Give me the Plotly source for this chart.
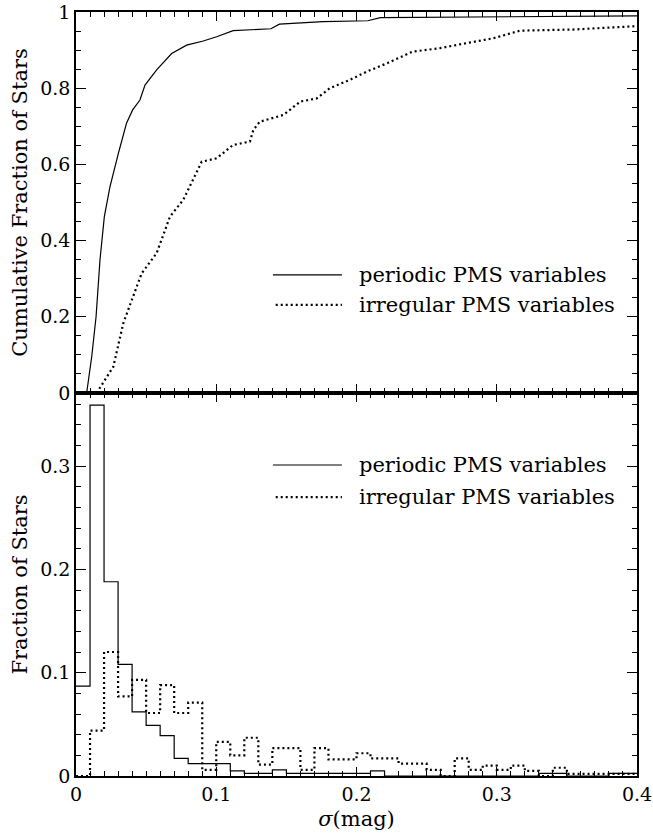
import numpy as np
import plotly.graph_objects as go

# ---------------- data ----------------
# cumulative distributions (top panel)
cdf_periodic_x = [0.0076, 0.0112, 0.0143, 0.0171, 0.0202, 0.0242, 0.0302, 0.036, 0.0404,
                  0.0456, 0.0492, 0.0575, 0.0682, 0.0789, 0.0907, 0.1003, 0.112, 0.131,
                  0.139, 0.145, 0.176, 0.208, 0.217, 0.4]
cdf_periodic_y = [0.0, 0.095, 0.2, 0.349, 0.463, 0.541, 0.629, 0.708, 0.743,
                  0.769, 0.808, 0.848, 0.891, 0.913, 0.924, 0.935, 0.951, 0.955,
                  0.956, 0.968, 0.975, 0.977, 0.985, 0.990]

cdf_irregular_x = [0.0147, 0.0266, 0.0337, 0.0468, 0.0575, 0.067, 0.0765, 0.0836, 0.0896,
                   0.1003, 0.112, 0.124, 0.1264, 0.131, 0.148, 0.160, 0.1716, 0.181,
                   0.1953, 0.207, 0.2215, 0.240, 0.2594, 0.278, 0.2975, 0.3165, 0.3545, 0.4]
cdf_irregular_y = [0.0, 0.069, 0.183, 0.314, 0.367, 0.463, 0.507, 0.559, 0.607,
                   0.616, 0.651, 0.660, 0.690, 0.712, 0.730, 0.765, 0.773, 0.800,
                   0.822, 0.843, 0.865, 0.896, 0.905, 0.918, 0.931, 0.951, 0.954, 0.963]

# histograms (bottom panel), bins of width 0.01 from 0 to 0.40
bin_edges = [round(0.01 * i, 2) for i in range(41)]
hist_periodic = [0.087, 0.359, 0.188, 0.108, 0.062, 0.049, 0.039, 0.017, 0.012, 0.012,
                 0.012, 0.005, 0.0025, 0.0025, 0.006, 0.0025, 0.0025, 0.0025, 0.0025, 0.0025,
                 0.0025, 0.005, 0.0, 0.0, 0.0, 0.0, 0.0, 0.0, 0.0, 0.0,
                 0.0, 0.0, 0.0, 0.0025, 0.0025, 0.0, 0.0, 0.0, 0.0025, 0.0025]
hist_irregular = [0.0, 0.044, 0.120, 0.077, 0.093, 0.061, 0.088, 0.061, 0.071, 0.006,
                  0.033, 0.020, 0.037, 0.011, 0.027, 0.027, 0.006, 0.027, 0.016, 0.016,
                  0.022, 0.017, 0.017, 0.012, 0.012, 0.006, 0.0, 0.017, 0.006, 0.010,
                  0.006, 0.010, 0.005, 0.0, 0.008, 0.002, 0.002, 0.002, 0.002, 0.002]

legend_labels = ["periodic PMS variables", "irregular PMS variables"]
top_yticks = [0, 0.2, 0.4, 0.6, 0.8, 1.0]
top_yticktext = ["0", "0.2", "0.4", "0.6", "0.8", "1"]
bot_yticks = [0, 0.1, 0.2, 0.3]
bot_yticktext = ["0", "0.1", "0.2", "0.3"]
xticks = [0, 0.1, 0.2, 0.3, 0.4]
xticktext = ["0", "0.1", "0.2", "0.3", "0.4"]

# ---------------- figure ----------------
FONT = "DejaVu Serif"
FS_TICK = 19
FS_TITLE = 21
FS_LEG = 21
DOT = "2px,3px"

fig = go.Figure()

fig.add_trace(go.Scatter(x=cdf_periodic_x, y=cdf_periodic_y, mode="lines",
                         line=dict(color="black", width=1.2),
                         xaxis="x", yaxis="y", showlegend=False))
fig.add_trace(go.Scatter(x=cdf_irregular_x, y=cdf_irregular_y, mode="lines",
                         line=dict(color="black", width=2.2, dash=DOT),
                         xaxis="x", yaxis="y", showlegend=False))

hp = hist_periodic + [hist_periodic[-1]]
hi = hist_irregular + [hist_irregular[-1]]
fig.add_trace(go.Scatter(x=bin_edges, y=hp, mode="lines",
                         line=dict(color="black", width=1.2, shape="hv"),
                         xaxis="x2", yaxis="y2", showlegend=False))
fig.add_trace(go.Scatter(x=bin_edges, y=hi, mode="lines",
                         line=dict(color="black", width=2.2, dash=DOT, shape="hv"),
                         xaxis="x2", yaxis="y2", showlegend=False))

split = 383 / 764

common_x = dict(range=[0, 0.4], showgrid=False, zeroline=False, automargin=False,
                showline=True, linecolor="black", linewidth=1.5, mirror="allticks",
                ticks="inside", ticklen=9, tickwidth=1.2, tickcolor="black",
                tickvals=xticks, ticktext=xticktext,
                minor=dict(dtick=0.01, ticks="inside", ticklen=5, tickwidth=1, tickcolor="black"),
                tickfont=dict(family=FONT, size=FS_TICK, color="black"))
common_y = dict(showgrid=False, zeroline=False, automargin=False,
                showline=True, linecolor="black", linewidth=1.5, mirror="allticks",
                ticks="inside", ticklen=10, tickwidth=1.2, tickcolor="black",
                tickfont=dict(family=FONT, size=FS_TICK, color="black"))

fig.update_layout(
    width=653, height=836,
    margin=dict(l=76, r=16, t=12, b=60),
    paper_bgcolor="white", plot_bgcolor="white",
    xaxis=dict(common_x, anchor="y", showticklabels=False),
    yaxis=dict(common_y, domain=[split, 1], anchor="x", range=[0, 1],
               tickvals=top_yticks, ticktext=top_yticktext,
               minor=dict(dtick=0.05, ticks="inside", ticklen=5, tickwidth=1, tickcolor="black"),
               title=dict(text="Cumulative Fraction of Stars", standoff=7,
                          font=dict(family=FONT, size=FS_TITLE, color="black"))),
    xaxis2=dict(common_x, anchor="y2",
                title=dict(text="<i>σ</i>(mag)", standoff=8,
                           font=dict(family=FONT, size=FS_TITLE, color="black"))),
    yaxis2=dict(common_y, domain=[0, split], anchor="x2", range=[0, 0.3707],
                tickvals=bot_yticks, ticktext=bot_yticktext,
                minor=dict(dtick=0.02, ticks="inside", ticklen=5, tickwidth=1, tickcolor="black"),
                title=dict(text="Fraction of Stars", standoff=7,
                           font=dict(family=FONT, size=FS_TITLE, color="black"))),
)

# legends drawn in both panels
for xref, yref, y0, dy in [("x domain", "y domain", 0.31, 0.0787),
                           ("x2 domain", "y2 domain", 0.812, 0.084)]:
    for i, (lab, dash) in enumerate(zip(legend_labels, ["solid", DOT])):
        yy = y0 - i * dy
        fig.add_shape(type="line", xref=xref, yref=yref,
                      x0=0.351 if i == 0 else 0.356, x1=0.474, y0=yy, y1=yy,
                      line=dict(color="black", width=1.2 if i == 0 else 2.2, dash=dash))
        fig.add_annotation(xref=xref, yref=yref, x=0.501, y=yy, text=lab,
                           showarrow=False, xanchor="left", yanchor="middle",
                           font=dict(family=FONT, size=FS_LEG, color="black"))

fig.write_html("out.html", config={"displayModeBar": False},
               post_script="document.body.style.margin='0';document.body.style.padding='0';")
